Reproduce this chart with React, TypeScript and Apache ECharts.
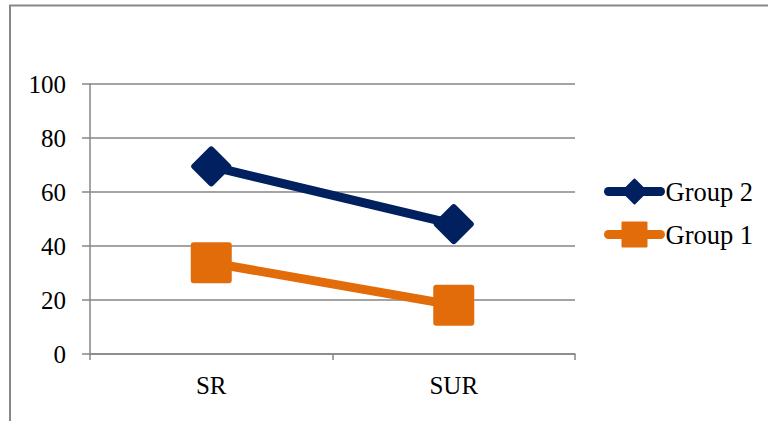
import React, { useEffect, useRef } from "react";
import * as echarts from "echarts";

const categories = ["SR", "SUR"];
const group2 = [69.5, 48.1];
const group1 = [33.8, 18.1];
const yTicks = { min: 0, max: 100, interval: 20 };

const NAVY = "#002060";
const ORANGE = "#E36C0A";
const GRID_GRAY = "#868686";
const FONT = '"Times New Roman", "Liberation Serif", serif';

export default function App() {
  const ref = useRef<HTMLDivElement>(null);

  useEffect(() => {
    if (!ref.current) return;
    const chart = echarts.init(ref.current, undefined, { renderer: "svg" });
    chart.setOption({
      animation: false,
      backgroundColor: "#ffffff",
      textStyle: { fontFamily: FONT, color: "#000" },
      grid: { left: 90, right: 193, top: 84, bottom: 67, containLabel: false },
      graphic: [
        {
          type: "polyline",
          shape: { points: [[10, 430], [10, 5.5], [780, 5.5]] },
          style: { stroke: "#878787", lineWidth: 2, fill: "none" },
          silent: true,
        },
      ],
      legend: {
        left: 599,
        top: 173,
        orient: "vertical",
        itemWidth: 52,
        itemHeight: 30,
        itemGap: 16,
        data: ["Group 2", "Group 1"],
        lineStyle: { width: 9, cap: "round" },
        textStyle: { fontFamily: FONT, fontSize: 26.5, color: "#000" },
      },
      xAxis: {
        type: "category",
        data: categories,
        boundaryGap: true,
        axisLine: { lineStyle: { color: GRID_GRAY, width: 1.5 } },
        axisTick: { show: true, length: 6, alignWithLabel: false, lineStyle: { color: GRID_GRAY, width: 1.5 } },
        axisLabel: { fontFamily: FONT, fontSize: 25, color: "#000", margin: 19 },
      },
      yAxis: {
        type: "value",
        min: yTicks.min,
        max: yTicks.max,
        interval: yTicks.interval,
        axisLine: { show: true, lineStyle: { color: GRID_GRAY, width: 1.5 } },
        axisTick: { show: true, length: 8, lineStyle: { color: GRID_GRAY, width: 1.5 } },
        splitLine: { show: true, lineStyle: { color: GRID_GRAY, width: 1.5 } },
        axisLabel: { fontFamily: FONT, fontSize: 25, color: "#000", margin: 24 },
      },
      series: [
        {
          name: "Group 2",
          type: "line",
          data: group2,
          symbol: "diamond",
          symbolSize: 34,
          color: NAVY,
          lineStyle: { color: NAVY, width: 9, cap: "round" },
          itemStyle: { color: NAVY, borderColor: NAVY, borderWidth: 6, borderJoin: "round" },
          z: 3,
        },
        {
          name: "Group 1",
          type: "line",
          data: group1,
          symbol: "rect",
          symbolSize: 35,
          color: ORANGE,
          lineStyle: { color: ORANGE, width: 9, cap: "round" },
          itemStyle: { color: ORANGE, borderColor: ORANGE, borderWidth: 6, borderJoin: "round" },
          z: 2,
        },
      ],
    });
    return () => chart.dispose();
  }, []);

  return <div ref={ref} style={{ width: 768, height: 421, position: "absolute", left: 0, top: 0 }} />;
}
